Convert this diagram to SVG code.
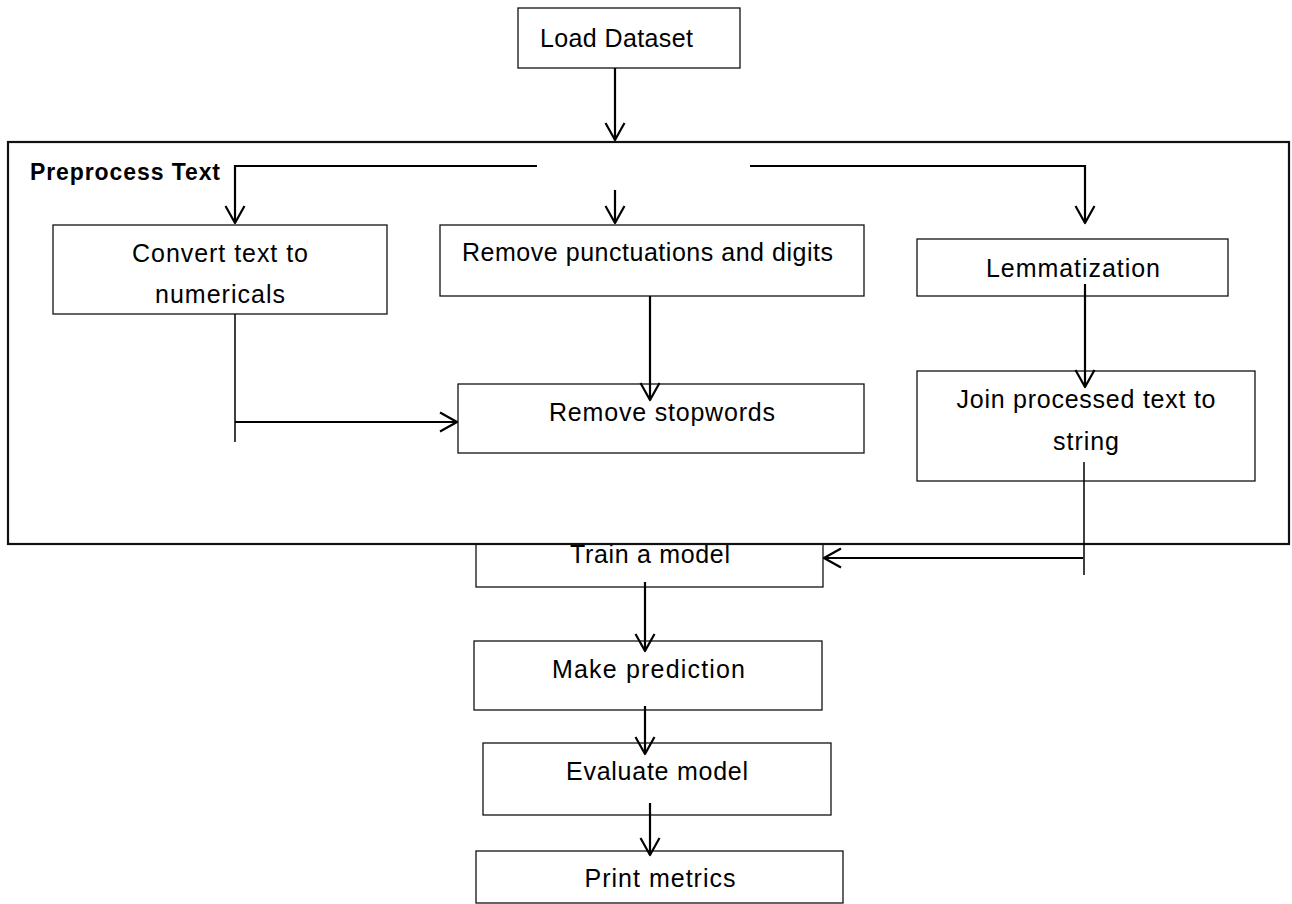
<svg xmlns="http://www.w3.org/2000/svg" width="1292" height="904" viewBox="0 0 1292 904">
<defs>
<marker id="ah" viewBox="-20 -12 22 24" refX="0" refY="0" markerWidth="22" markerHeight="24" markerUnits="userSpaceOnUse" orient="auto">
<path d="M-17,-9.5 L0,0 L-17,9.5" fill="none" stroke="#000" stroke-width="2.2" stroke-linejoin="round"/>
</marker>
<style>
.box{fill:#fff;stroke:#111;stroke-width:1.3}
.frame{fill:#fff;stroke:#111;stroke-width:2.2}
.t{font-family:"Liberation Sans",Arial,sans-serif;font-size:25px;fill:#000}
.tb{font-family:"Liberation Sans",Arial,sans-serif;font-size:23px;font-weight:bold;fill:#000}
.c{text-anchor:middle}
.w{fill:none;stroke:#000;stroke-width:2.2}
.n{fill:none;stroke:#000;stroke-width:1.5}
.a{marker-end:url(#ah)}
</style>
</defs>
<g id="train">
<rect class="box" x="476" y="520" width="347" height="67"/>
<text class="t c" x="650" y="563" textLength="160">Train a model</text>
</g>
<g id="preprocess">
<rect class="frame" x="8" y="142" width="1281" height="402"/>
<text class="tb" x="30" y="180" textLength="190">Preprocess Text</text>
</g>
<g id="load">
<rect class="box" x="518" y="8" width="222" height="60"/>
<text class="t" x="540" y="47" textLength="153">Load Dataset</text>
</g>
<g id="convert">
<rect class="box" x="53" y="225" width="334" height="89"/>
<text class="t c" x="220" y="262" textLength="176">Convert text to</text>
<text class="t c" x="220" y="303" textLength="130">numericals</text>
</g>
<g id="punct">
<rect class="box" x="440" y="225" width="424" height="71"/>
<text class="t c" x="647.5" y="261" textLength="371">Remove punctuations and digits</text>
</g>
<g id="lemma">
<rect class="box" x="917" y="239" width="311" height="57"/>
<text class="t c" x="1073" y="277" textLength="174">Lemmatization</text>
</g>
<g id="stopwords">
<rect class="box" x="458" y="384" width="406" height="69"/>
<text class="t c" x="662" y="421" textLength="226">Remove stopwords</text>
</g>
<g id="join">
<rect class="box" x="917" y="371" width="338" height="110"/>
<text class="t c" x="1086" y="408" textLength="259">Join processed text to</text>
<text class="t c" x="1086" y="450" textLength="66">string</text>
</g>
<g id="predict">
<rect class="box" x="474" y="641" width="348" height="69"/>
<text class="t c" x="648.5" y="678" textLength="193">Make prediction</text>
</g>
<g id="evaluate">
<rect class="box" x="483" y="743" width="348" height="72"/>
<text class="t c" x="657" y="780" textLength="182">Evaluate model</text>
</g>
<g id="print">
<rect class="box" x="476" y="851" width="367" height="52"/>
<text class="t c" x="660" y="887" textLength="151">Print metrics</text>
</g>
<g id="connectors">
<line class="w a" x1="615" y1="68" x2="615" y2="140"/>
<polyline class="w a" points="537,166 235,166 235,223"/>
<polyline class="w a" points="750,166 1085,166 1085,223"/>
<line class="w a" x1="615" y1="190" x2="615" y2="223"/>
<line class="n" x1="235" y1="314" x2="235" y2="442"/>
<line class="w a" x1="235" y1="422" x2="457" y2="422"/>
<line class="w a" x1="650" y1="296" x2="650" y2="400"/>
<line class="w a" x1="1085" y1="284" x2="1085" y2="387"/>
<line class="n" x1="1084" y1="462" x2="1084" y2="575"/>
<line class="w a" x1="1083" y1="558" x2="824" y2="558"/>
<line class="w a" x1="645" y1="582" x2="645" y2="651"/>
<line class="w a" x1="645" y1="706" x2="645" y2="754"/>
<line class="w a" x1="650" y1="803" x2="650" y2="855"/>
</g>
</svg>
